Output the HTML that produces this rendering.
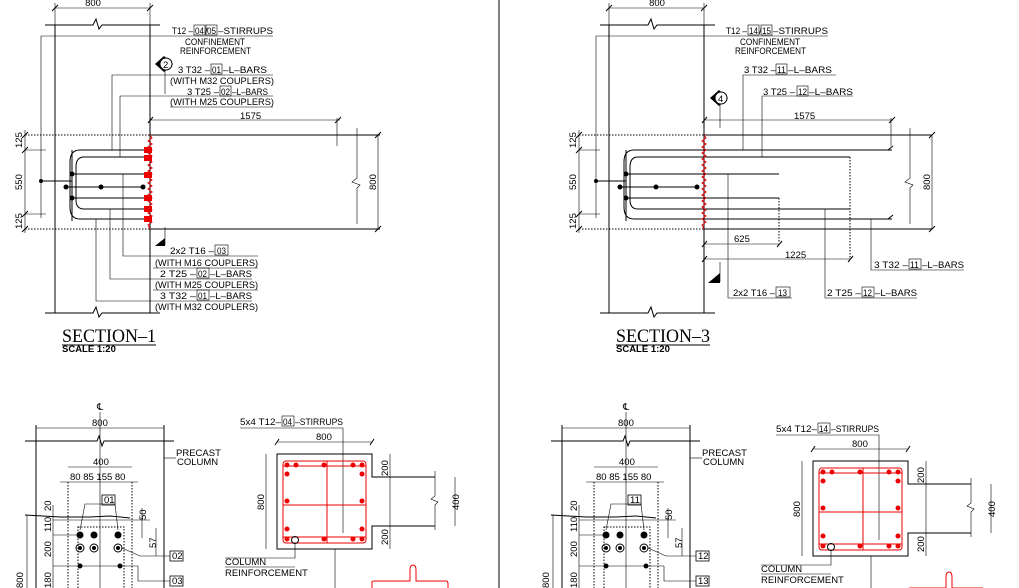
<!DOCTYPE html>
<html><head><meta charset="utf-8"><style>
html,body{margin:0;padding:0;background:#fff;width:1019px;height:588px;overflow:hidden}
svg{display:block}
text{font-family:"Liberation Sans",sans-serif;font-size:9.5px;fill:#000}
.s{stroke:#000;stroke-width:1;fill:none}
.t{stroke:#000;stroke-width:0.6;fill:none}
.d{stroke:#000;stroke-width:1;fill:none;stroke-dasharray:1.5 1.5}
.r{stroke:#e00;stroke-width:1;fill:none}
.rf{fill:#e00}
.bx{stroke:#000;stroke-width:0.8;fill:#fff}
</style></head><body>
<svg width="1019" height="588" viewBox="0 0 1019 588" xmlns="http://www.w3.org/2000/svg">
<line x1="499" y1="0" x2="499" y2="588" class="s"/>

<!-- ============ SECTION 1 ============ -->
<g>
<line x1="55" y1="8" x2="150" y2="8" class="t"/><line x1="55" y1="3" x2="55" y2="25" class="t"/><line x1="150" y1="3" x2="150" y2="25" class="t"/>
<line x1="52" y1="11" x2="58" y2="5" class="s"/><line x1="147" y1="11" x2="153" y2="5" class="s"/>
<text x="93" y="6" text-anchor="middle">800</text>
<polyline points="45,25 93,25 96,19 99,29 102,25 160,25" class="s"/>
<polyline points="45,313 93,313 96,307 99,317 102,313 160,313" class="s"/>
<line x1="55" y1="25" x2="55" y2="313" class="s"/><line x1="150" y1="25" x2="150" y2="313" class="s"/>
<polyline points="41,218 41,36 273,36" class="t"/>
<text x="172" y="34" textLength="21" lengthAdjust="spacingAndGlyphs">T12 –</text>
<rect x="194" y="25" width="11" height="10" class="t"/><text x="195" y="34" textLength="9" lengthAdjust="spacingAndGlyphs">04</text>
<text x="205" y="34">/</text>
<rect x="206" y="25" width="11" height="10" class="t"/><text x="207" y="34" textLength="9" lengthAdjust="spacingAndGlyphs">05</text>
<text x="218" y="34" textLength="55" lengthAdjust="spacingAndGlyphs">–STIRRUPS</text>
<text x="185" y="45" textLength="60" lengthAdjust="spacingAndGlyphs">CONFINEMENT</text>
<text x="180" y="54" textLength="71" lengthAdjust="spacingAndGlyphs">REINFORCEMENT</text>
<polygon points="155,64 164,56 173,64 164,72" fill="#000"/><circle cx="166" cy="64" r="6" fill="#fff" stroke="#000"/>
<text x="163" y="68" font-size="9">2</text><line x1="165" y1="70" x2="165" y2="94" class="t"/>
<text x="178" y="73" textLength="32" lengthAdjust="spacingAndGlyphs">3 T32 –</text>
<rect x="211" y="64" width="11" height="10" class="t"/><text x="212" y="73" textLength="9" lengthAdjust="spacingAndGlyphs">01</text>
<text x="223" y="73" textLength="44" lengthAdjust="spacingAndGlyphs">–L–BARS</text>
<polyline points="112,150 112,75 273,75" class="t"/>
<text x="170" y="84" textLength="104" lengthAdjust="spacingAndGlyphs">(WITH M32 COUPLERS)</text>
<text x="187" y="95" textLength="32" lengthAdjust="spacingAndGlyphs">3 T25 –</text>
<rect x="220" y="86" width="11" height="10" class="t"/><text x="221" y="95" textLength="9" lengthAdjust="spacingAndGlyphs">02</text>
<text x="232" y="95" textLength="36" lengthAdjust="spacingAndGlyphs">–L–BARS</text>
<polyline points="120,157 120,96 273,96" class="t"/>
<line x1="170" y1="107" x2="273" y2="107" class="t"/>
<text x="170" y="105" textLength="104" lengthAdjust="spacingAndGlyphs">(WITH M25 COUPLERS)</text>
<line x1="150" y1="120" x2="340" y2="120" class="t"/><line x1="337" y1="118" x2="337" y2="146" class="t"/>
<line x1="148" y1="123" x2="153" y2="117" class="s"/><line x1="335" y1="123" x2="341" y2="117" class="s"/>
<text x="240" y="119">1575</text>
<line x1="25" y1="135" x2="150" y2="135" class="d"/><line x1="150" y1="135" x2="380" y2="135" class="s"/>
<line x1="25" y1="229" x2="150" y2="229" class="d"/><line x1="150" y1="229" x2="380" y2="229" class="s"/>
<polyline points="357,128 357,178 352,182 360,185 357,188 357,224" class="t"/>
<line x1="378" y1="135" x2="378" y2="229" class="t"/>
<line x1="375" y1="138" x2="381" y2="132" class="s"/><line x1="375" y1="232" x2="381" y2="226" class="s"/>
<text transform="translate(376,190) rotate(-90)">800</text>
<line x1="25" y1="130" x2="25" y2="233" class="t"/>
<line x1="22" y1="138" x2="28" y2="132" class="s"/><line x1="22" y1="153" x2="28" y2="147" class="s"/><line x1="22" y1="217" x2="28" y2="211" class="s"/><line x1="22" y1="232" x2="28" y2="226" class="s"/>
<line x1="25" y1="150" x2="46" y2="150" class="t"/><line x1="25" y1="214" x2="46" y2="214" class="t"/>
<text transform="translate(22,148) rotate(-90)" font-size="8">125</text>
<text transform="translate(22,190) rotate(-90)" font-size="8">550</text>
<text transform="translate(22,229) rotate(-90)" font-size="8">125</text>
<path d="M150,150 H80 Q70,150 70,162 V207 Q70,219 80,219 H150" class="s"/>
<path d="M150,157 H84 Q76,157 76,167 V200 Q76,209 84,209 H150" class="s"/>
<line x1="72" y1="150" x2="72" y2="221" class="s" stroke-width="1.5"/>
<line x1="72" y1="174" x2="150" y2="174" class="s"/><line x1="72" y1="198" x2="150" y2="198" class="s"/>
<line x1="67" y1="187" x2="143" y2="187" class="s"/><line x1="41" y1="181" x2="72" y2="181" class="s"/>
<circle cx="41" cy="181" r="2" fill="#000"/><circle cx="72" cy="174" r="2.5" fill="#000"/><circle cx="72" cy="198" r="2.5" fill="#000"/>
<circle cx="66" cy="187" r="2.5" fill="#000"/><circle cx="101" cy="187" r="2.5" fill="#000"/><circle cx="143" cy="187" r="2.5" fill="#000"/>
<g class="rf"><rect x="144" y="147" width="8" height="6"/><rect x="144" y="155" width="8" height="6"/><rect x="144" y="172" width="8" height="6"/><rect x="144" y="195" width="8" height="6"/><rect x="144" y="206" width="8" height="6"/><rect x="144" y="216" width="8" height="6"/></g>
<polyline points="150,135 152,138 148,141 152,144 148,147 152,150 148,153 152,156 148,159 152,162 148,165 152,168 148,171 152,174 148,177 152,180 148,183 152,186 148,189 152,192 148,195 152,198 148,201 152,204 148,207 152,210 148,213 152,216 148,219 152,222 148,225 150,229" class="r"/>
<line x1="165" y1="227" x2="165" y2="245" class="t"/><polygon points="155,246 165,238 165,246" fill="#000"/>
<polyline points="123,174 123,256 258,256" class="t"/>
<text x="170" y="254" textLength="44" lengthAdjust="spacingAndGlyphs">2x2 T16 –</text>
<rect x="215" y="245" width="13" height="10" class="t"/><text x="217" y="254" textLength="9" lengthAdjust="spacingAndGlyphs">03</text>
<line x1="153" y1="268" x2="258" y2="268" class="t"/>
<text x="155" y="266" textLength="103" lengthAdjust="spacingAndGlyphs">(WITH M16 COUPLERS)</text>
<polyline points="110,209 110,279 252,279" class="t"/>
<text x="160" y="277" textLength="36" lengthAdjust="spacingAndGlyphs">2 T25 –</text>
<rect x="197" y="268" width="12" height="10" class="t"/><text x="198" y="277" textLength="9" lengthAdjust="spacingAndGlyphs">02</text>
<text x="210" y="277" textLength="42" lengthAdjust="spacingAndGlyphs">–L–BARS</text>
<line x1="153" y1="290" x2="258" y2="290" class="t"/>
<text x="155" y="288" textLength="103" lengthAdjust="spacingAndGlyphs">(WITH M25 COUPLERS)</text>
<polyline points="96,219 96,301 252,301" class="t"/>
<text x="160" y="299" textLength="36" lengthAdjust="spacingAndGlyphs">3 T32 –</text>
<rect x="197" y="290" width="12" height="10" class="t"/><text x="198" y="299" textLength="9" lengthAdjust="spacingAndGlyphs">01</text>
<text x="210" y="299" textLength="42" lengthAdjust="spacingAndGlyphs">–L–BARS</text>
<text x="155" y="310" textLength="103" lengthAdjust="spacingAndGlyphs">(WITH M32 COUPLERS)</text>
<text x="62" y="342" textLength="94" lengthAdjust="spacingAndGlyphs" style="font-family:'Liberation Serif',serif;font-size:19px">SECTION–1</text>
<line x1="62" y1="345" x2="156" y2="345" class="s"/>
<text x="62" y="352" font-size="6" font-weight="bold">SCALE 1:20</text>
</g>

<!-- ============ SECTION 3 ============ -->
<g>
<line x1="609" y1="8" x2="704" y2="8" class="t"/><line x1="609" y1="3" x2="609" y2="25" class="t"/><line x1="704" y1="3" x2="704" y2="25" class="t"/>
<line x1="606" y1="11" x2="612" y2="5" class="s"/><line x1="701" y1="11" x2="707" y2="5" class="s"/>
<text x="657" y="6" text-anchor="middle">800</text>
<polyline points="600,25 648,25 651,19 654,29 657,25 715,25" class="s"/>
<polyline points="600,313 648,313 651,307 654,317 657,313 715,313" class="s"/>
<line x1="609" y1="25" x2="609" y2="313" class="s"/><line x1="704" y1="25" x2="704" y2="313" class="s"/>
<polyline points="596,218 596,36 828,36" class="t"/>
<text x="726" y="34" textLength="21" lengthAdjust="spacingAndGlyphs">T12 –</text>
<rect x="748" y="25" width="11" height="10" class="t"/><text x="749" y="34" textLength="9" lengthAdjust="spacingAndGlyphs">14</text>
<text x="759" y="34">/</text>
<rect x="761" y="25" width="11" height="10" class="t"/><text x="762" y="34" textLength="9" lengthAdjust="spacingAndGlyphs">15</text>
<text x="773" y="34" textLength="55" lengthAdjust="spacingAndGlyphs">–STIRRUPS</text>
<text x="740" y="45" textLength="60" lengthAdjust="spacingAndGlyphs">CONFINEMENT</text>
<text x="735" y="54" textLength="71" lengthAdjust="spacingAndGlyphs">REINFORCEMENT</text>
<text x="744" y="73" textLength="32" lengthAdjust="spacingAndGlyphs">3 T32 –</text>
<rect x="776" y="64" width="11" height="10" class="t"/><text x="777" y="73" textLength="9" lengthAdjust="spacingAndGlyphs">11</text>
<text x="788" y="73" textLength="44" lengthAdjust="spacingAndGlyphs">–L–BARS</text>
<polyline points="743,150 743,75 836,75" class="t"/>
<text x="763" y="95" textLength="32" lengthAdjust="spacingAndGlyphs">3 T25 –</text>
<rect x="797" y="86" width="11" height="10" class="t"/><text x="798" y="95" textLength="9" lengthAdjust="spacingAndGlyphs">12</text>
<text x="809" y="95" textLength="44" lengthAdjust="spacingAndGlyphs">–L–BARS</text>
<polyline points="762,157 762,96 853,96" class="t"/>
<polygon points="710,98 719,90 728,98 719,106" fill="#000"/><circle cx="721" cy="98" r="6" fill="#fff" stroke="#000"/>
<text x="718" y="102">4</text><line x1="720" y1="104" x2="720" y2="128" class="t"/>
<line x1="704" y1="120" x2="893" y2="120" class="t"/><line x1="891" y1="118" x2="891" y2="146" class="t"/>
<line x1="702" y1="123" x2="707" y2="117" class="s"/><line x1="889" y1="123" x2="895" y2="117" class="s"/>
<text x="794" y="119">1575</text>
<line x1="579" y1="135" x2="704" y2="135" class="d"/><line x1="704" y1="135" x2="932" y2="135" class="s"/>
<line x1="579" y1="229" x2="704" y2="229" class="d"/><line x1="704" y1="229" x2="932" y2="229" class="s"/>
<polyline points="910,128 910,178 905,182 913,185 910,188 910,224" class="t"/>
<line x1="932" y1="135" x2="932" y2="229" class="t"/>
<line x1="929" y1="138" x2="935" y2="132" class="s"/><line x1="929" y1="232" x2="935" y2="226" class="s"/>
<text transform="translate(930,190) rotate(-90)">800</text>
<line x1="579" y1="130" x2="579" y2="233" class="t"/>
<line x1="576" y1="138" x2="582" y2="132" class="s"/><line x1="576" y1="153" x2="582" y2="147" class="s"/><line x1="576" y1="217" x2="582" y2="211" class="s"/><line x1="576" y1="232" x2="582" y2="226" class="s"/>
<line x1="579" y1="150" x2="600" y2="150" class="t"/><line x1="579" y1="214" x2="600" y2="214" class="t"/>
<text transform="translate(576,148) rotate(-90)" font-size="8">125</text>
<text transform="translate(576,190) rotate(-90)" font-size="8">550</text>
<text transform="translate(576,229) rotate(-90)" font-size="8">125</text>
<path d="M892,150 H634 Q624,150 624,162 V207 Q624,219 634,219 H892" class="s"/>
<path d="M850,157 H638 Q630,157 630,167 V200 Q630,209 638,209 H850" class="s"/>
<line x1="888" y1="150" x2="893" y2="146" class="s"/><line x1="888" y1="219" x2="893" y2="215" class="s"/>
<line x1="626" y1="150" x2="626" y2="221" class="s" stroke-width="1.5"/>
<line x1="626" y1="174" x2="779" y2="174" class="s"/><line x1="626" y1="198" x2="779" y2="198" class="s"/>
<line x1="620" y1="187" x2="697" y2="187" class="s"/><line x1="596" y1="181" x2="626" y2="181" class="s"/>
<line x1="779" y1="198" x2="779" y2="243" class="d"/><line x1="850" y1="157" x2="850" y2="258" class="d"/>
<circle cx="596" cy="181" r="2" fill="#000"/><circle cx="626" cy="174" r="2.5" fill="#000"/><circle cx="626" cy="198" r="2.5" fill="#000"/>
<circle cx="620" cy="187" r="2.5" fill="#000"/><circle cx="656" cy="187" r="2.5" fill="#000"/><circle cx="697" cy="187" r="2.5" fill="#000"/>
<polyline points="704,135 706,138 702,141 706,144 702,147 706,150 702,153 706,156 702,159 706,162 702,165 706,168 702,171 706,174 702,177 706,180 702,183 706,186 702,189 706,192 702,195 706,198 702,201 706,204 702,207 706,210 702,213 706,216 702,219 706,222 702,225 704,229" class="r"/>
<line x1="704" y1="229" x2="704" y2="290" class="t"/>
<line x1="704" y1="244" x2="780" y2="244" class="t"/><text x="734" y="242">625</text>
<line x1="704" y1="259" x2="851" y2="259" class="t"/><text x="785" y="258">1225</text>
<line x1="702" y1="247" x2="707" y2="241" class="s"/><line x1="777" y1="247" x2="782" y2="241" class="s"/>
<line x1="702" y1="262" x2="707" y2="256" class="s"/><line x1="848" y1="262" x2="853" y2="256" class="s"/>
<line x1="720" y1="262" x2="720" y2="282" class="t"/><polygon points="708,283 720,273 720,283" fill="#000"/>
<polyline points="728,174 728,298 792,298" class="t"/>
<text x="733" y="296" textLength="42" lengthAdjust="spacingAndGlyphs">2x2 T16 –</text>
<rect x="776" y="287" width="14" height="10" class="t"/><text x="778" y="296" textLength="9" lengthAdjust="spacingAndGlyphs">13</text>
<polyline points="825,209 825,298 917,298" class="t"/>
<text x="827" y="296" textLength="34" lengthAdjust="spacingAndGlyphs">2 T25 –</text>
<rect x="862" y="287" width="12" height="10" class="t"/><text x="863" y="296" textLength="9" lengthAdjust="spacingAndGlyphs">12</text>
<text x="875" y="296" textLength="42" lengthAdjust="spacingAndGlyphs">–L–BARS</text>
<polyline points="871,219 871,270 964,270" class="t"/>
<text x="874" y="268" textLength="34" lengthAdjust="spacingAndGlyphs">3 T32 –</text>
<rect x="909" y="259" width="12" height="10" class="t"/><text x="910" y="268" textLength="9" lengthAdjust="spacingAndGlyphs">11</text>
<text x="922" y="268" textLength="42" lengthAdjust="spacingAndGlyphs">–L–BARS</text>
<text x="616" y="342" textLength="94" lengthAdjust="spacingAndGlyphs" style="font-family:'Liberation Serif',serif;font-size:19px">SECTION–3</text>
<line x1="616" y1="345" x2="710" y2="345" class="s"/>
<text x="616" y="352" font-size="6" font-weight="bold">SCALE 1:20</text>
</g>

<!-- ============ bottom column detail ============ -->
<g id="colL">
<text x="97" y="410" font-size="8">℄</text>
<line x1="100" y1="412" x2="100" y2="588" class="t"/>
<line x1="36" y1="428" x2="164" y2="428" class="t"/><text x="92" y="426" font-size="8">800</text>
<line x1="36" y1="425" x2="36" y2="588" class="s"/><line x1="164" y1="425" x2="164" y2="588" class="s"/>
<polyline points="25,441 97,441 99,436 102,446 104,441 174,441" class="s"/>
<line x1="164" y1="458" x2="176" y2="458" class="t"/><text x="176" y="456" font-size="7.5">PRECAST</text><text x="177" y="465" font-size="7.5">COLUMN</text>
<line x1="68" y1="467" x2="132" y2="467" class="t"/><text x="93" y="465" font-size="8">400</text>
<line x1="60" y1="482" x2="138" y2="482" class="t"/><text x="70" y="480" font-size="8">80 85  155  80</text>
<line x1="68" y1="482" x2="68" y2="588" class="d"/><line x1="132" y1="482" x2="132" y2="588" class="d"/>
<rect x="102" y="495" width="13" height="10" class="bx"/>
<polyline points="80,530 85,504 115,504 118,530" class="t"/>
<polyline points="25,515 60,517 90,517 110,516 130,518" class="s"/>
<line x1="53" y1="520" x2="150" y2="520" class="t"/>
<rect x="78" y="527" width="46" height="70" class="d"/>
<g fill="#000"><circle cx="80" cy="535" r="3.5"/><circle cx="94" cy="535" r="3.5"/><circle cx="118" cy="535" r="3.5"/></g>
<g class="s"><circle cx="80" cy="548" r="4"/><circle cx="94" cy="548" r="4"/><circle cx="118" cy="548" r="4"/></g>
<g fill="#000"><circle cx="80" cy="548" r="2"/><circle cx="94" cy="548" r="2"/><circle cx="118" cy="548" r="2"/><circle cx="80" cy="566" r="2.5"/><circle cx="120" cy="566" r="2.5"/></g>
<line x1="53" y1="535" x2="78" y2="535" class="t"/><line x1="53" y1="566" x2="138" y2="566" class="t"/>
<polyline points="122,548 140,556 170,556" class="t"/><rect x="170" y="551" width="13" height="10" class="bx"/>
<polyline points="138,566 138,581 170,581" class="t"/><rect x="170" y="576" width="13" height="10" class="bx"/>
<line x1="53" y1="505" x2="53" y2="588" class="t"/>
<line x1="27" y1="515" x2="27" y2="588" class="t"/>
<text transform="translate(51,511) rotate(-90)" font-size="8">20</text>
<text transform="translate(51,532) rotate(-90)" font-size="8">110</text>
<text transform="translate(51,557) rotate(-90)" font-size="8">200</text>
<text transform="translate(51,588) rotate(-90)" font-size="8">180</text>
<text transform="translate(23,588) rotate(-90)" font-size="8">800</text>
<line x1="142" y1="508" x2="142" y2="538" class="t"/><text transform="translate(146,520) rotate(-90)" font-size="8">50</text>
<line x1="156" y1="528" x2="156" y2="556" class="t"/><text transform="translate(156,548) rotate(-90)" font-size="8">57</text>
</g>
<use href="#colL" transform="translate(526,0)"/>
<g font-size="8">
<text x="104" y="503" font-size="8">01</text><text x="172" y="559" font-size="8">02</text><text x="172" y="584" font-size="8">03</text>
<text x="630" y="503" font-size="8">11</text><text x="698" y="559" font-size="8">12</text><text x="698" y="584" font-size="8">13</text>
</g>

<g id="stL">
<polyline points="240,428 343,428 343,533" class="t"/>
<line x1="277" y1="442" x2="372" y2="442" class="t"/><text x="316" y="440">800</text>
<line x1="275" y1="445" x2="279" y2="439" class="s"/><line x1="370" y1="445" x2="374" y2="439" class="s"/>
<polyline points="435,477 372,477 372,454 277,454 277,549 372,549 372,526 435,526" class="s"/>
<line x1="266" y1="454" x2="266" y2="549" class="t"/><text transform="translate(264,510) rotate(-90)" font-size="8">800</text>
<line x1="390" y1="454" x2="390" y2="549" class="t"/>
<text transform="translate(388,476) rotate(-90)" font-size="8">200</text>
<text transform="translate(388,545) rotate(-90)" font-size="8">200</text>
<polyline points="435,471 435,496 431,499 438,502 435,505 435,530" class="t"/>
<line x1="455" y1="477" x2="455" y2="526" class="t"/><text transform="translate(459,510) rotate(-90)" font-size="8">400</text>
<rect x="283" y="461" width="83" height="82" rx="3" class="r"/>
<line x1="283" y1="466" x2="366" y2="466" class="r"/><line x1="283" y1="505" x2="366" y2="505" class="r"/><line x1="283" y1="537" x2="366" y2="537" class="r"/>
<line x1="327" y1="461" x2="327" y2="543" class="r"/>
<g class="rf"><circle cx="287" cy="465" r="2.5"/><circle cx="296" cy="465" r="2.5"/><circle cx="324" cy="465" r="2.5"/><circle cx="353" cy="465" r="2.5"/><circle cx="362" cy="465" r="2.5"/>
<circle cx="287" cy="474" r="2.5"/><circle cx="362" cy="474" r="2.5"/><circle cx="287" cy="501" r="2.5"/><circle cx="362" cy="501" r="2.5"/>
<circle cx="287" cy="529" r="2.5"/><circle cx="362" cy="529" r="2.5"/><circle cx="287" cy="539" r="2.5"/><circle cx="324" cy="539" r="2.5"/><circle cx="353" cy="539" r="2.5"/><circle cx="362" cy="539" r="2.5"/></g>
<circle cx="295" cy="540" r="3.5" class="s"/>
<polyline points="295,544 295,558 225,558" class="t"/>
<text x="225" y="565" font-size="8">COLUMN</text><text x="225" y="576" font-size="8">REINFORCEMENT</text>
<line x1="225" y1="567" x2="295" y2="567" class="t"/>
<line x1="335" y1="549" x2="335" y2="588" class="t"/>
<path d="M372,588 V582 Q372,581 375,581 H410 V570 Q410,565 413,565 Q416,565 416,570 V581 H446 Q448,581 448,584 V588" class="r"/>
</g>
<use href="#stL" transform="translate(536,7)"/>
<text x="240" y="425" textLength="41" lengthAdjust="spacingAndGlyphs">5x4 T12–</text>
<rect x="282" y="416" width="12" height="10" class="t"/><text x="283" y="425" textLength="9" lengthAdjust="spacingAndGlyphs">04</text>
<text x="295" y="425" textLength="48" lengthAdjust="spacingAndGlyphs">–STIRRUPS</text>
<text x="776" y="432" textLength="41" lengthAdjust="spacingAndGlyphs">5x4 T12–</text>
<rect x="818" y="423" width="12" height="10" class="t"/><text x="819" y="432" textLength="9" lengthAdjust="spacingAndGlyphs">14</text>
<text x="831" y="432" textLength="48" lengthAdjust="spacingAndGlyphs">–STIRRUPS</text>
</svg>
</body></html>
